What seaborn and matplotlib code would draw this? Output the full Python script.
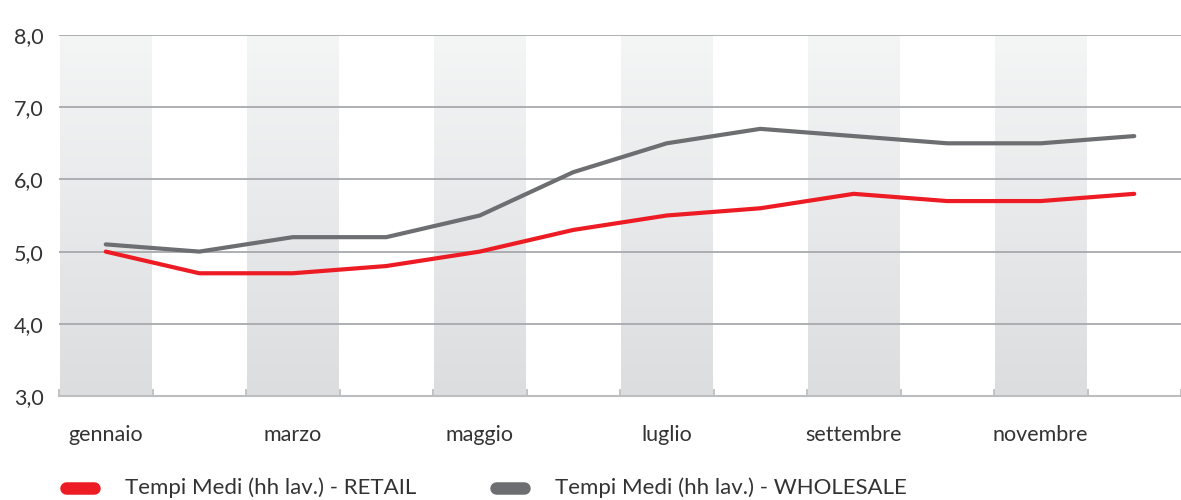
import numpy as np
import pandas as pd
import matplotlib
matplotlib.use("Agg")
import matplotlib.pyplot as plt
from matplotlib.lines import Line2D
import seaborn as sns

months = ["gennaio", "febbraio", "marzo", "aprile", "maggio", "giugno",
          "luglio", "agosto", "settembre", "ottobre", "novembre", "dicembre"]
retail = [5.0, 4.7, 4.7, 4.8, 5.0, 5.3, 5.5, 5.6, 5.8, 5.7, 5.7, 5.8]
wholesale = [5.1, 5.0, 5.2, 5.2, 5.5, 6.1, 6.5, 6.7, 6.6, 6.5, 6.5, 6.6]
series_names = ["Tempi Medi (hh lav.) - RETAIL", "Tempi Medi (hh lav.) - WHOLESALE"]
colors = ["#ed1c24", "#6d6e71"]
y_ticks = [3.0, 4.0, 5.0, 6.0, 7.0, 8.0]

sns.set_theme(style="white")
plt.rcParams["font.family"] = ["Lato", "DejaVu Sans"]

W, H = 1181, 500
STEP = 94.4
LEFT = 59
fig = plt.figure(figsize=(W / 100, H / 100), dpi=100)
ax = fig.add_axes([LEFT / W, 104 / H, 1 - LEFT / W, 361 / H])

df = pd.DataFrame({
    "mese": list(range(12)) * 2,
    "valore": retail + wholesale,
    "serie": [series_names[0]] * 12 + [series_names[1]] * 12,
})

# alternating gradient bands behind odd months (light at top, darker below)
grad = np.linspace(0, 1, 256).reshape(-1, 1)
band_cmap = matplotlib.colors.LinearSegmentedColormap.from_list(
    "band", ["#f4f5f5", "#dcdddf"])
for i in range(0, 12, 2):
    ax.imshow(grad, extent=(i - 0.49, i + 0.49, 3.0, 8.0), origin="upper",
              cmap=band_cmap, aspect="auto", zorder=0)

# horizontal grid
for yv in y_ticks[1:]:
    ax.axhline(yv, color="#a7a9ac", lw=1.3, zorder=1)

sns.lineplot(data=df, x="mese", y="valore", hue="serie", palette=colors,
             linewidth=3.0, legend=False, ax=ax, zorder=3,
             solid_capstyle="round", solid_joinstyle="round")

ax.set_xlim(-0.5, -0.5 + (W - LEFT) / STEP)
ax.set_ylim(3.0, 8.0)
ax.set_xlabel("")
ax.set_ylabel("")
for s in ["top", "right", "left"]:
    ax.spines[s].set_visible(False)
ax.spines["bottom"].set_color("#bcbec0")
ax.spines["bottom"].set_linewidth(1.5)

ax.set_yticks(y_ticks)
ax.set_yticklabels([f"{v:.1f}".replace(".", ",") for v in y_ticks],
                   fontsize=15.5, color="#333333")
ax.tick_params(axis="y", length=0, pad=11)

ax.set_xticks(range(0, 12, 2))
ax.set_xticklabels(months[0::2], fontsize=15.5, color="#333333")
ax.tick_params(axis="x", length=0, pad=21)
# small boundary ticks
ax.set_xticks([i - 0.5 for i in range(13)], minor=True)
ax.tick_params(axis="x", which="minor", direction="in", length=5,
               width=1.3, color="#bcbec0", bottom=True)
ax.grid(False)

# legend with pill-shaped swatches
leg_x = [66, 496]
for name, col, x0 in zip(series_names, colors, leg_x):
    fig.add_artist(Line2D([x0 / W, (x0 + 28) / W], [12 / H, 12 / H],
                          color=col, lw=9, solid_capstyle="round",
                          transform=fig.transFigure))
    fig.text((x0 + 59) / W, 12 / H, name, fontsize=16, color="#333333",
             va="center", ha="left")

fig.savefig("out.png", dpi=100)
